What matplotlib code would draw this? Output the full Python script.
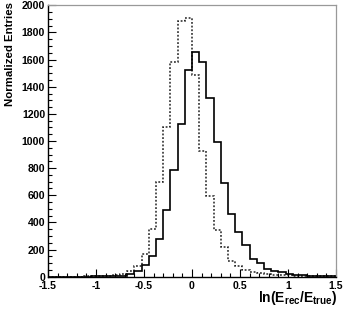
import numpy as np
import matplotlib
matplotlib.use("Agg")
import matplotlib.pyplot as plt
from matplotlib.ticker import MultipleLocator

# Istogrammi (40 bin da -1.5 a 1.5)
x_min, x_max = -1.5, 1.5
n_bin = 40
solido = [0, 0, 0, 0, 1, 1, 2, 2, 3, 5,
          8, 19, 40, 88, 152, 276, 491, 786, 1123, 1523,
          1658, 1580, 1317, 990, 693, 465, 330, 230, 133, 102,
          60, 44, 32, 20, 12, 10, 8, 6, 4, 3]
tratteggiato = [0, 0, 0, 1, 1, 2, 3, 4, 6, 10,
                20, 45, 82, 170, 349, 700, 1105, 1582, 1886, 1904,
                1486, 926, 595, 344, 220, 118, 82, 49, 37, 25,
                18, 14, 12, 10, 8, 6, 5, 4, 3, 2]
x_ticks = [-1.5, -1, -0.5, 0, 0.5, 1, 1.5]
x_tick_labels = ["-1.5", "-1", "-0.5", "0", "0.5", "1", "1.5"]
y_ticks = [0, 200, 400, 600, 800, 1000, 1200, 1400, 1600, 1800, 2000]

plt.rcParams['font.family'] = ['Liberation Sans', 'DejaVu Sans']
plt.rcParams['font.weight'] = 'bold'
plt.rcParams['mathtext.fontset'] = 'custom'
plt.rcParams['mathtext.rm'] = 'Liberation Sans:bold'
plt.rcParams['mathtext.it'] = 'Liberation Sans:bold'

edges = np.linspace(x_min, x_max, n_bin + 1)

fig = plt.figure(figsize=(3.43, 3.11), dpi=100)
ax = fig.add_axes([48 / 343, 1 - 276.7 / 311, 288 / 343, 271.4 / 311])

ax.stairs(tratteggiato, edges, color='#222222', lw=1.1, linestyle=(0, (1.2, 1.2)))
ax.stairs(solido, edges, color='black', lw=1.2)

ax.set_xlim(x_min, x_max)
ax.set_ylim(0, 2000)
ax.set_xticks(x_ticks)
ax.set_xticklabels(x_tick_labels)
ax.set_yticks(y_ticks)
ax.xaxis.set_minor_locator(MultipleLocator(0.1))
ax.yaxis.set_minor_locator(MultipleLocator(50))

ax.tick_params(which='both', direction='in', labelsize=7.6, width=0.8, color='black')
ax.tick_params(which='major', length=6)
ax.tick_params(which='minor', length=3)
ax.tick_params(axis='x', pad=3)
ax.tick_params(axis='y', pad=2)
ax.tick_params(top=False, right=False)

for s in ['left', 'bottom']:
    ax.spines[s].set_color('black')
    ax.spines[s].set_linewidth(1.0)
for s in ['top', 'right']:
    ax.spines[s].set_color('#999999')
    ax.spines[s].set_linewidth(0.9)

fig.text(10 / 343, 1 - 2 / 311, "Normalized Entries", rotation=90,
         ha='center', va='top', fontsize=8.2, fontweight='bold')
fig.text(337 / 343, 1 - 298 / 311, r'$\mathrm{ln(E_{rec}/E_{true})}$',
         ha='right', va='center', fontsize=10)

fig.savefig("out.png", dpi=100)
